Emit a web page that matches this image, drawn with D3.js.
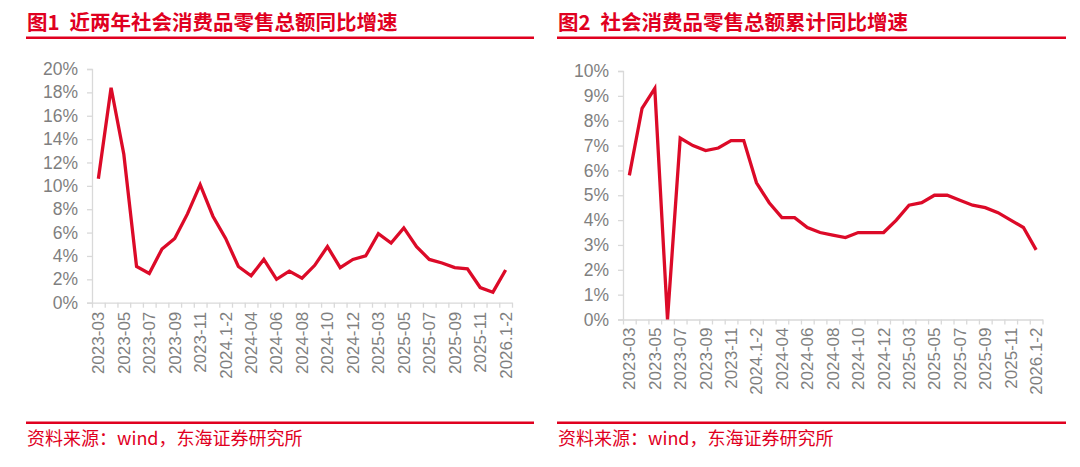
<!DOCTYPE html>
<html><head><meta charset="utf-8">
<script src="https://cdn.jsdelivr.net/npm/d3@7"></script>
<style>
html,body{margin:0;padding:0;background:#fff;}
svg{display:block;}
</style></head>
<body>
<svg id="c" width="1080" height="467"></svg>
<script>
const categories = ["2023-03","2023-04","2023-05","2023-06","2023-07","2023-08","2023-09","2023-10","2023-11","2023-12",
"2024.1-2","2024-03","2024-04","2024-05","2024-06","2024-07","2024-08","2024-09","2024-10","2024-11","2024-12",
"2025.1-2","2025-03","2025-04","2025-05","2025-06","2025-07","2025-08","2025-09","2025-10","2025-11","2025-12","2026.1-2"];
const yoyValues = [10.6,18.4,12.7,3.1,2.5,4.6,5.5,7.6,10.1,7.4,5.5,3.1,2.3,3.7,2.0,2.7,2.1,3.2,4.8,3.0,3.7,4.0,5.9,5.1,6.4,4.8,3.7,3.4,3.0,2.9,1.3,0.9,2.8];
const cumValues = [5.8,8.5,9.3,0,7.3,7.0,6.8,6.9,7.2,7.2,5.5,4.7,4.1,4.1,3.7,3.5,3.4,3.3,3.5,3.5,3.5,4.0,4.6,4.7,5.0,5.0,4.8,4.6,4.5,4.3,4.0,3.7,2.8];
const yTicksLeft = [0,2,4,6,8,10,12,14,16,18,20];
const yTicksRight = [0,1,2,3,4,5,6,7,8,9,10];
const titleLeftNum = "图1";
const titleLeft = "近两年社会消费品零售总额同比增速";
const titleRightNum = "图2";
const titleRight = "社会消费品零售总额累计同比增速";
const sourceText = "资料来源：wind，东海证券研究所";

const RED = "#e0001f";
const LINE = "#dc0a28";
const GRAY_AXIS = "#d9d9d9";
const GRAY_TEXT = "#7f7f7f";
const svg = d3.select("#c");

function panel(opt){
  const g = svg.append("g");
  const t = g.append("text").attr("x", opt.x0).attr("y", 29.5)
    .attr("font-family","'Noto Sans CJK SC', sans-serif").attr("font-weight","bold")
    .attr("font-size", 20.5).attr("fill", RED);
  t.append("tspan").text(opt.num);
  t.append("tspan").attr("dx", 10).text(opt.title);
  g.append("rect").attr("x", opt.x0-1).attr("y", 36.5).attr("width", opt.x1-opt.x0+1).attr("height", 2.5).attr("fill", RED);
  g.append("rect").attr("x", opt.x0-1).attr("y", 421.5).attr("width", opt.x1-opt.x0+1).attr("height", 2.5).attr("fill", RED);
  g.append("text").attr("x", opt.x0).attr("y", 445)
    .attr("font-family","'Noto Sans CJK SC', sans-serif").attr("font-size", 18).attr("fill", RED)
    .text(sourceText);

  const x = d3.scaleBand().domain(categories).range([opt.left, opt.right]).paddingInner(0).paddingOuter(0);
  const xb = d3.scaleLinear().domain([0, categories.length]).range([opt.left, opt.right]);
  const y = d3.scaleLinear().domain(opt.ydomain).range([opt.bottom, opt.top]);

  const ya = g.append("g").attr("transform", `translate(${opt.left},0)`)
    .call(d3.axisLeft(y).tickValues(opt.yticks).tickFormat(d => d + "%").tickSize(5).tickPadding(9));
  ya.select(".domain").attr("stroke", GRAY_AXIS).attr("stroke-width", 1.3);
  ya.selectAll(".tick line").attr("stroke", GRAY_AXIS).attr("stroke-width", 1.3);
  ya.selectAll(".tick text").attr("fill", GRAY_TEXT).attr("font-size", 17.5)
    .attr("font-family", "'Liberation Sans', Arial, sans-serif");

  const xt = g.append("g").attr("transform", `translate(0,${opt.bottom})`)
    .call(d3.axisBottom(xb).tickValues(d3.range(categories.length + 1)).tickFormat("").tickSize(5).tickSizeOuter(0));
  xt.select(".domain").attr("stroke", GRAY_AXIS).attr("stroke-width", 1.3);
  xt.selectAll(".tick line").attr("stroke", GRAY_AXIS).attr("stroke-width", 1.3);

  const xl = g.append("g").attr("transform", `translate(0,${opt.bottom})`)
    .call(d3.axisBottom(x).tickValues(categories.filter((d,i) => i % 2 === 0)).tickSize(0).tickPadding(0));
  xl.select(".domain").remove();
  xl.selectAll(".tick text")
    .attr("fill", GRAY_TEXT).attr("font-size", 17)
    .attr("font-family", "'Liberation Sans', Arial, sans-serif")
    .attr("transform", "rotate(-90)")
    .attr("text-anchor", "end")
    .attr("x", -opt.labelGap).attr("y", 0).attr("dy", "0.35em");

  const line = d3.line().x((d,i) => x(categories[i]) + x.bandwidth()/2).y(d => y(d));
  g.append("path").datum(opt.values).attr("d", line)
    .attr("fill", "none").attr("stroke", LINE).attr("stroke-width", 3.3)
    .attr("stroke-linejoin", "miter").attr("stroke-miterlimit", 4).attr("stroke-linecap", "butt");
}

panel({x0:27, x1:534, num:titleLeftNum, title:titleLeft, left:92, right:512, top:69, bottom:302.7,
  ydomain:[0,20], yticks:yTicksLeft, values:yoyValues, labelGap:9});
panel({x0:558, x1:1066, num:titleRightNum, title:titleRight, left:623, right:1042.5, top:71, bottom:319.5,
  ydomain:[0,10], yticks:yTicksRight, values:cumValues, labelGap:8});
</script>
</body></html>
